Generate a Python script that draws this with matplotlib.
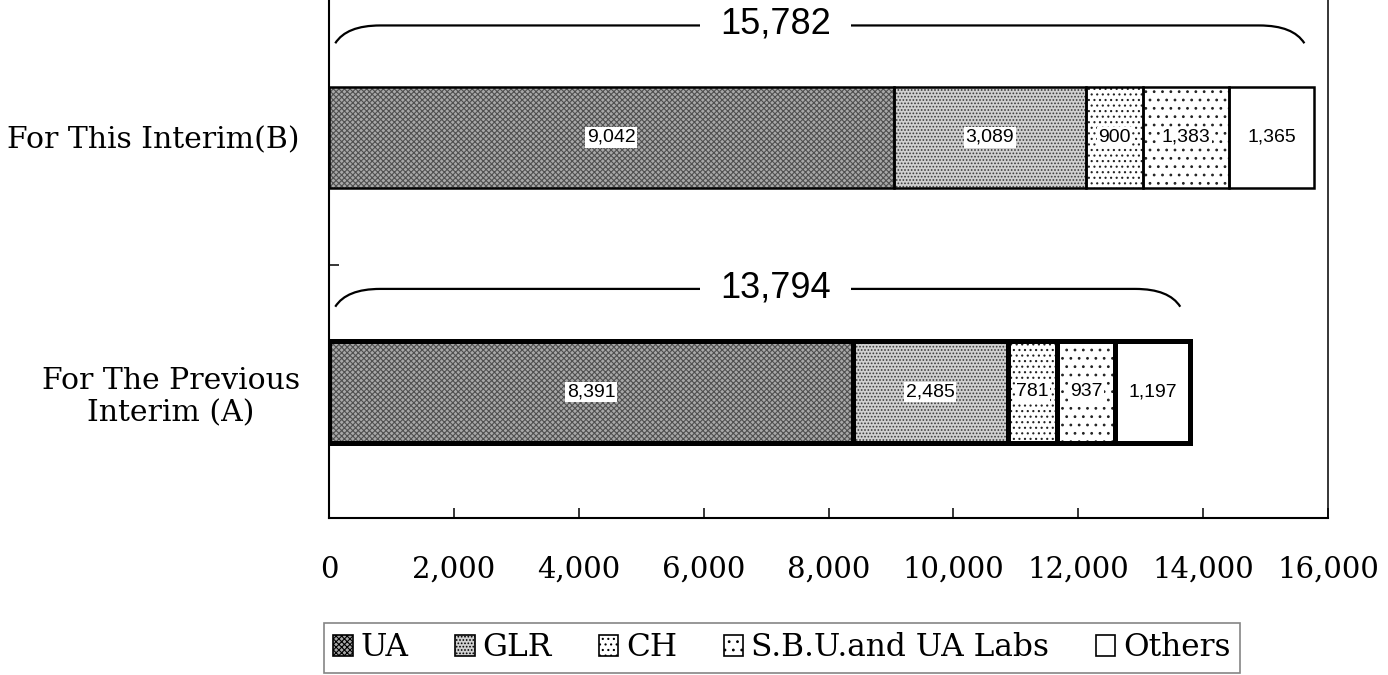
import matplotlib
matplotlib.use("Agg")
import matplotlib.pyplot as plt
from matplotlib.patches import Patch
from matplotlib.path import Path
from matplotlib.patches import PathPatch

# ---- data ----
categories = ["For The Previous\nInterim (A)", "For This Interim(B)"]
segments = ["UA", "GLR", "CH", "S.B.U.and UA Labs", "Others"]
ua = [8391, 9042]
glr = [2485, 3089]
ch = [781, 900]
sbu = [937, 1383]
others = [1197, 1365]
totals = [13794, 15782]
xticks = [0, 2000, 4000, 6000, 8000, 10000, 12000, 14000, 16000]
xticklabels = ["0", "2,000", "4,000", "6,000", "8,000", "10,000", "12,000", "14,000", "16,000"]

series = [ua, glr, ch, sbu, others]
faces = ["#a8a8a8", "#d0d0d0", "white", "white", "white"]
hatches = ["xxxxxx", ".....", "...", "..", None]
hatch_cols = ["#505050", "#3a3a3a", "#222222", "#222222", "white"]
edge_lw = [3.6, 1.8]  # A, B
brace_off = [0.405, 0.44]

plt.rcParams["hatch.linewidth"] = 0.8

fig = plt.figure(figsize=(13.88, 6.75), dpi=100)
ax = fig.add_axes([329 / 1388, 1 - 518 / 675, (1328 - 329) / 1388, 518 / 675])

ypos = [0, 1]
bh = 0.4
left = [0, 0]
for s, vals in enumerate(series):
    for i in range(2):
        ax.barh(ypos[i], vals[i], left=left[i], height=bh, color=faces[s],
                hatch=hatches[s], edgecolor=hatch_cols[s], linewidth=0, zorder=2)
        ax.barh(ypos[i], vals[i], left=left[i], height=bh, fill=False,
                edgecolor="black", linewidth=edge_lw[i], zorder=3)
        ax.text(left[i] + vals[i] / 2, ypos[i], f"{vals[i]:,}", ha="center", va="center",
                fontsize=14, family=["Liberation Sans", "DejaVu Sans"], zorder=5,
                bbox=dict(boxstyle="square,pad=0.08", fc="white", ec="none"))
    left = [left[i] + vals[i] for i in range(2)]

# braces with totals
for i in range(2):
    x0 = 100
    x1 = totals[i] - 160
    yc = ypos[i] + brace_off[i]
    ye = yc - 0.07
    dx = 720
    verts = [(x0, ye), (x0 + dx * 0.25, yc), (x0 + dx, yc),
             (x1 - dx, yc),
             (x1 - dx, yc), (x1 - dx * 0.25, yc), (x1, ye)]
    codes = [Path.MOVETO, Path.CURVE3, Path.CURVE3, Path.LINETO,
             Path.MOVETO, Path.CURVE3, Path.CURVE3]
    ax.add_patch(PathPatch(Path(verts, codes), fill=False, edgecolor="black",
                           linewidth=1.6, zorder=4))
    ax.text(7150, yc + 0.005, f"{totals[i]:,}", ha="center", va="center", fontsize=26,
            family=["Liberation Sans", "DejaVu Sans"], zorder=6,
            bbox=dict(boxstyle="square,pad=0.55", fc="white", ec="none"))

ax.set_xlim(0, 16000)
ax.set_ylim(-0.495, 1.54)
ax.set_xticks(xticks)
ax.set_xticklabels(xticklabels, family="DejaVu Serif", fontsize=21)
ax.tick_params(axis="x", direction="in", length=7.2, width=1.1, pad=27)
ax.set_yticks(ypos)
ax.set_yticklabels(categories, family="DejaVu Serif", fontsize=21.5, multialignment="center")
ax.tick_params(axis="y", which="major", length=0, pad=21)
ax.set_yticks([0.5], minor=True)
ax.tick_params(axis="y", which="minor", direction="in", length=7.2, width=1.1)

for sp in ["left", "bottom"]:
    ax.spines[sp].set_linewidth(1.5)
ax.spines["right"].set_linewidth(1.1)
ax.spines["top"].set_visible(False)

handles = [Patch(facecolor=faces[s], hatch=hatches[s], edgecolor="black", linewidth=1.2)
           for s in range(5)]
leg = fig.legend(handles, segments, loc="center", bbox_to_anchor=(782 / 1388, 1 - 648 / 675),
                 ncol=5, frameon=True, fancybox=False, handlelength=0.62, handleheight=0.62,
                 handletextpad=0.25, columnspacing=1.5, borderpad=0.3, borderaxespad=0,
                 prop={"family": "DejaVu Serif", "size": 22.5})
leg.get_frame().set_edgecolor("#666666")
leg.get_frame().set_linewidth(1.2)

fig.savefig("out.png", dpi=100)
